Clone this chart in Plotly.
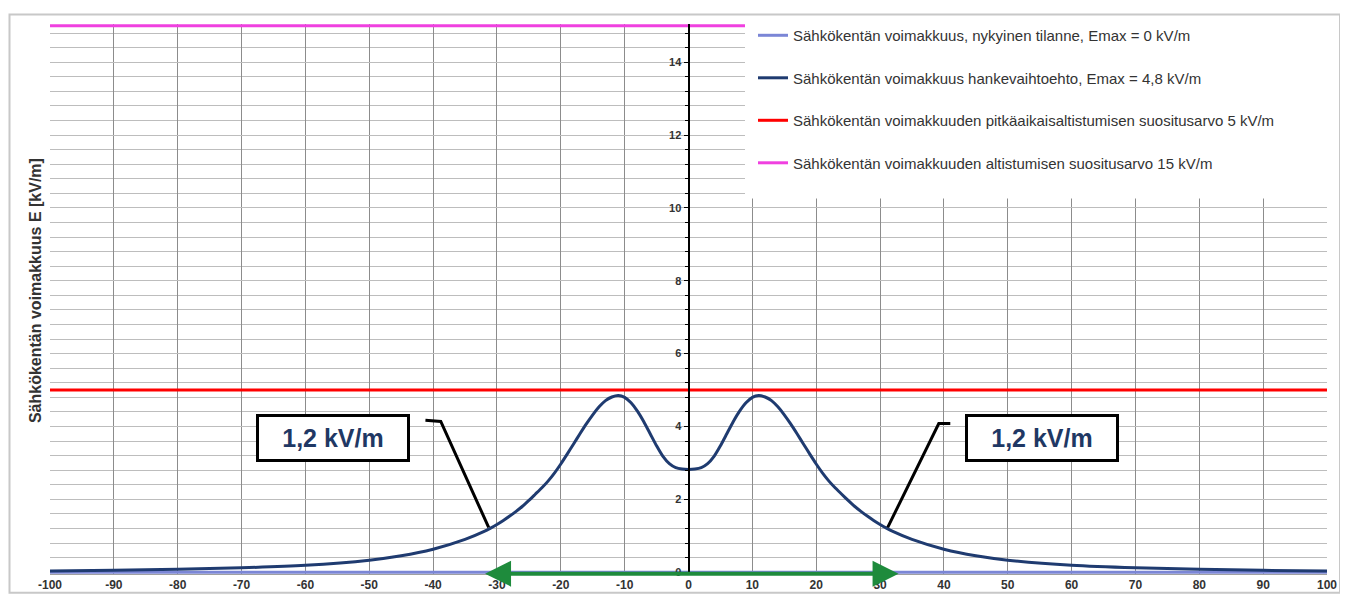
import plotly.graph_objects as go

# Etäisyys johtoaukean keskilinjasta [m] ja sähkökentän voimakkuus [kV/m]
etaisyys = [-100, -90, -80, -70, -60, -50, -45, -40, -35,
            -32, -31, -30, -29, -28, -27, -26, -25, -24, -23, -22, -21, -20, -19, -18, -17,
            -16, -15, -14, -13, -12, -11, -10, -9, -8, -7, -6, -5, -4, -3, -2, -1, 0,
            1, 2, 3, 4, 5, 6, 7, 8, 9, 10, 11, 12, 13, 14, 15, 16, 17, 18, 19, 20,
            21, 22, 23, 24, 25, 26, 27, 28, 29, 30, 31, 32,
            35, 40, 45, 50, 60, 70, 80, 90, 100]
e_hanke = [0.03, 0.05, 0.08, 0.12, 0.19, 0.33, 0.45, 0.63, 0.90,
           1.12, 1.21, 1.31, 1.42, 1.54, 1.67, 1.81, 1.97, 2.14, 2.31, 2.50, 2.72, 2.97, 3.24,
           3.52, 3.80, 4.07, 4.32, 4.54, 4.71, 4.81, 4.85, 4.80, 4.65, 4.42, 4.13, 3.80, 3.47,
           3.18, 2.98, 2.87, 2.83, 2.82,
           2.83, 2.87, 2.98, 3.18, 3.47, 3.80, 4.13, 4.42, 4.65, 4.80, 4.85, 4.81, 4.71, 4.54,
           4.32, 4.07, 3.80, 3.52, 3.24, 2.97, 2.72, 2.50, 2.31, 2.14, 1.97, 1.81, 1.67, 1.54,
           1.42, 1.31, 1.21, 1.12,
           0.90, 0.63, 0.45, 0.33, 0.19, 0.12, 0.08, 0.05, 0.03]

raja_x = [-100, 100]
e_nykyinen = [0, 0]
e_pitkaaikainen = [5, 5]
e_altistus = [15, 15]

x_ticks = [-100, -90, -80, -70, -60, -50, -40, -30, -20, -10, 0, 10, 20, 30, 40, 50, 60, 70, 80, 90, 100]
x_ticktext = ["-100", "-90", "-80", "-70", "-60", "-50", "-40", "-30", "-20", "-10", "0",
              "10", "20", "30", "40", "50", "60", "70", "80", "90", "100"]
y_ticks = [0, 2, 4, 6, 8, 10, 12, 14]

nimet = [
    "Sähkökentän voimakkuus, nykyinen tilanne, Emax = 0 kV/m",
    "Sähkökentän voimakkuus hankevaihtoehto, Emax = 4,8 kV/m",
    "Sähkökentän voimakkuuden pitkäaikaisaltistumisen suositusarvo 5 kV/m",
    "Sähkökentän voimakkuuden altistumisen suositusarvo 15 kV/m",
]

# johtoaukean leveys (vihreä nuoli) ja 1,2 kV/m -merkinnät
johtoaukea = [-32.1, 32.9]
merkinta_teksti = "1,2 kV/m"
merkinta_x = [-55.6, 55.4]
merkinta_y = 3.69
vasen_viiva = [(-41.2, 4.17), (-38.8, 4.14), (-31.3, 1.23)]
oikea_viiva = [(41.0, 4.08), (39.2, 4.08), (31.2, 1.23)]

FONTTI = "Liberation Sans, Arial"

fig = go.Figure()

fig.add_trace(go.Scatter(x=raja_x, y=e_nykyinen, mode="lines", name=nimet[0],
                         line=dict(color="#7B86D6", width=3), legendgroup="a"))
fig.add_trace(go.Scatter(x=etaisyys, y=e_hanke, mode="lines", name=nimet[1],
                         line=dict(color="#1F3B70", width=3, shape="spline", smoothing=0.5),
                         legendgroup="b"))
fig.add_trace(go.Scatter(x=raja_x, y=e_pitkaaikainen, mode="lines", name=nimet[2],
                         line=dict(color="#FF0000", width=3), legendgroup="c"))
fig.add_trace(go.Scatter(x=raja_x, y=e_altistus, mode="lines", name=nimet[3],
                         line=dict(color="#F040E0", width=3), legendgroup="d"))


# sivun 8 px reunus siirtää kuvaa, joten kuva-alan koordinaatit lasketaan näytön pikseleistä
def paperx(px):
    return (px - 50) / 1277


def papery(py):
    return (574 - py) / 555


shapes = [
    # valkoinen selitelaatikko
    dict(type="rect", xref="paper", yref="paper", x0=paperx(745), x1=paperx(1339),
         y0=papery(195), y1=papery(9), fillcolor="white", line=dict(width=0), layer="above"),
    # kaavion kehys
    dict(type="rect", xref="paper", yref="paper", x0=paperx(9.5), x1=paperx(1340),
         y0=papery(593), y1=papery(9.5), fillcolor="rgba(0,0,0,0)",
         line=dict(color="#C8C8C8", width=2), layer="above"),
]
for viiva in (vasen_viiva, oikea_viiva):
    path = "M {} {}".format(*viiva[0]) + "".join(" L {} {}".format(px, py) for px, py in viiva[1:])
    shapes.append(dict(type="path", xref="x", yref="y", path=path,
                       line=dict(color="black", width=3), layer="above"))

annotations = [
    dict(x=johtoaukea[1], y=-0.04, ax=johtoaukea[0], ay=-0.04, xref="x", yref="y",
         axref="x", ayref="y", text="", showarrow=True, arrowside="end+start",
         arrowhead=2, startarrowhead=2, arrowsize=1.3, startarrowsize=1.3, arrowwidth=4,
         arrowcolor="#1E8B3C", standoff=0, startstandoff=0),
    dict(x=paperx(25), y=papery(288), xref="paper", yref="paper", showarrow=False,
         text="<b>Sähkökentän voimakkuus E [kV/m]</b>", textangle=-90,
         font=dict(size=16, color="#333333", family=FONTTI)),
]
for mx in merkinta_x:
    annotations.append(dict(x=mx, y=merkinta_y, xref="x", yref="y", showarrow=False,
                            text="<b>" + merkinta_teksti + "</b>", width=146, height=40,
                            bgcolor="white", bordercolor="black", borderwidth=3,
                            font=dict(size=25, color="#1F3864", family=FONTTI)))

fig.update_layout(
    width=1348, height=597,
    margin=dict(l=42, r=29, t=11, b=31),
    paper_bgcolor="white", plot_bgcolor="white",
    shapes=shapes, annotations=annotations,
    showlegend=True,
    legend=dict(x=paperx(753), y=papery(14), xanchor="left", yanchor="top",
                bgcolor="rgba(0,0,0,0)", borderwidth=0, traceorder="grouped",
                tracegroupgap=20, itemwidth=30,
                font=dict(size=15, color="#333333", family=FONTTI)),
    xaxis=dict(range=[-100, 100], tickvals=x_ticks, ticktext=x_ticktext,
               showgrid=True, gridcolor="#8C8C8C", gridwidth=1, zeroline=False,
               showline=True, linecolor="#A0A0A0", ticks="",
               tickfont=dict(size=12, color="#333333", family=FONTTI, weight="bold")),
    yaxis=dict(range=[-0.05, 15.05], tickvals=y_ticks, anchor="free", position=0.5,
               showgrid=True, gridcolor="#BDBDBD", gridwidth=1, zeroline=False,
               showline=True, linecolor="black", linewidth=2,
               ticks="outside", ticklen=4, tickcolor="black",
               minor=dict(dtick=0.4, tick0=0, showgrid=True, gridcolor="#BDBDBD",
                          ticks="outside", ticklen=3, tickcolor="black"),
               tickfont=dict(size=11, color="#333333", family=FONTTI, weight="bold")),
)

fig.write_html("out.html")
